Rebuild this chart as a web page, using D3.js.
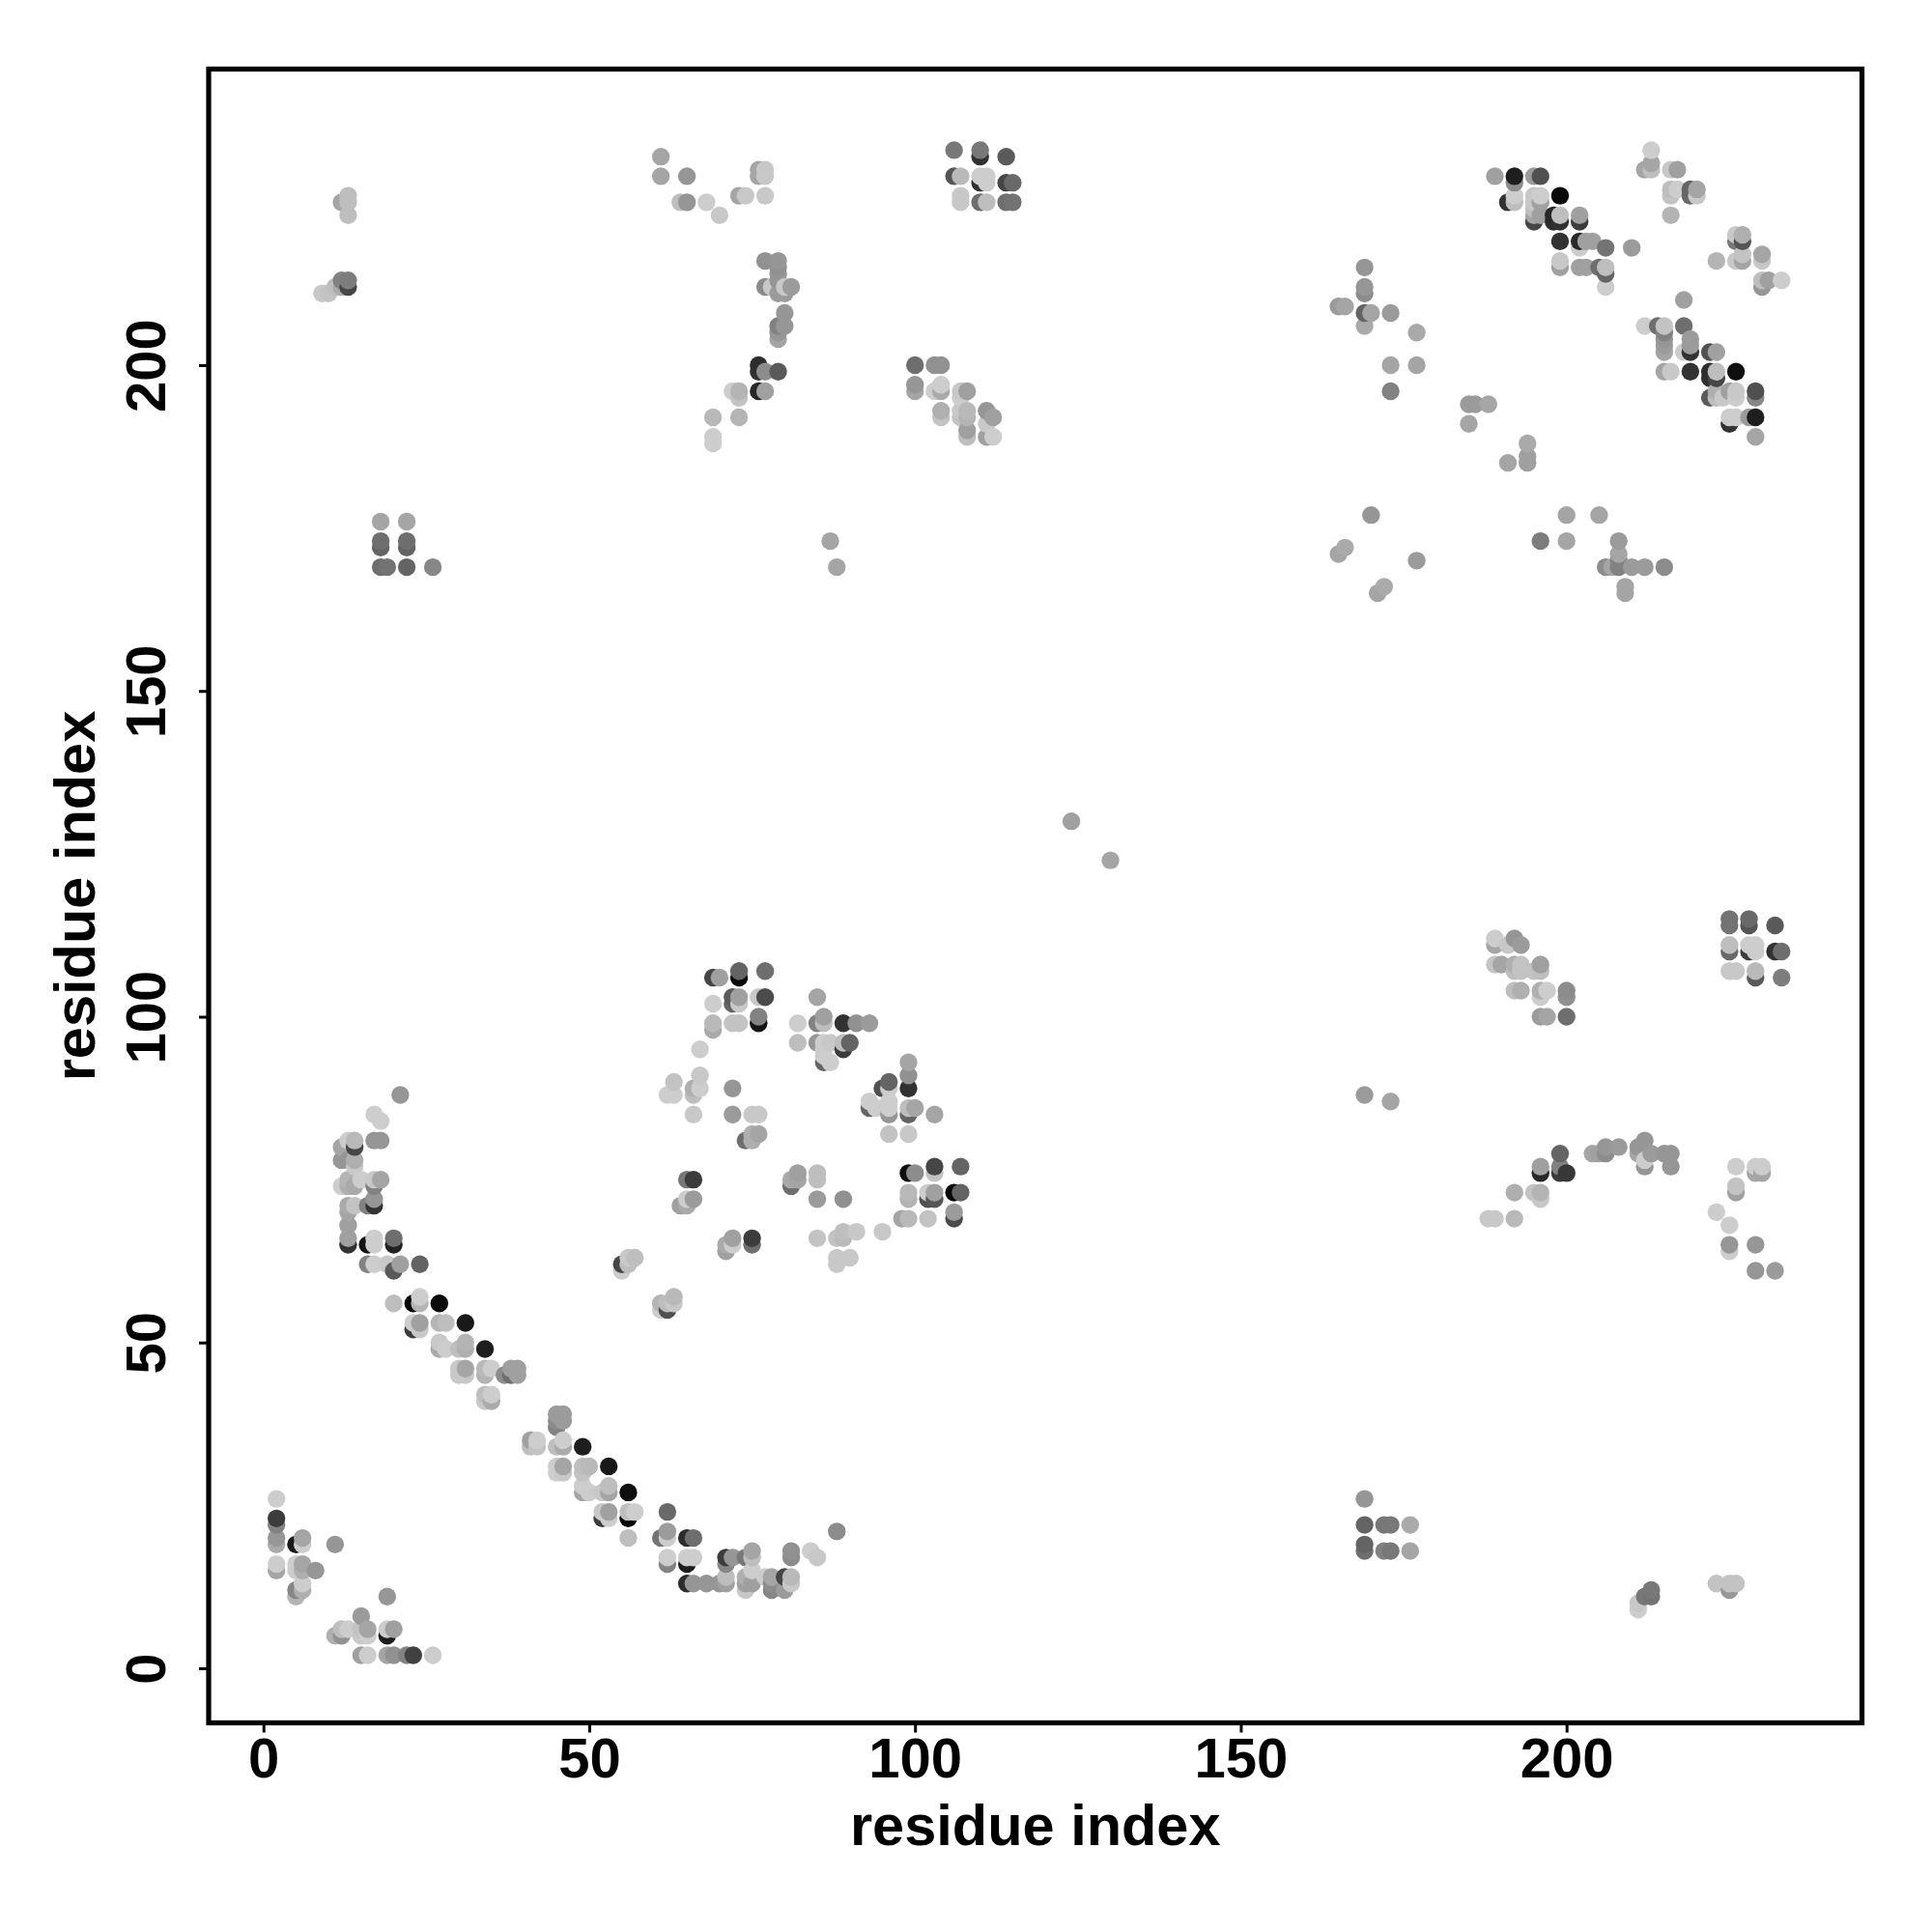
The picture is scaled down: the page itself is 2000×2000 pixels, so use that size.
<!DOCTYPE html>
<html>
<head>
<meta charset="utf-8">
<style>html,body{margin:0;padding:0;background:#fff}svg{display:block}</style>
<script src="https://cdn.jsdelivr.net/npm/d3@7"></script>
</head>
<body>
<div id="chart"></div>
<script>
// Each contact: [residue x, residue y, grey level]
const xTicks = [0, 50, 100, 150, 200];
const yTicks = [0, 50, 100, 150, 200];
const axisTitle = "residue index";

const lowDiagonal = [
[21,88,150],[17,85,205],[18,84,205],[17,81,150],[18,81,150],[14,81,185],[14,80,70],[13,81,205],[12,80,165],[12,78,150],[14,78,175],[13,78,150],[14,77,200],
[12,74,205],[13,75,180],[13,74,175],[14,74,170],[15,75,205],[17,75,200],[18,75,165],[17,74,130],[16,71,130],[17,72,150],[17,71,50],[13,71,170],[14,71,195],[13,70,165],[13,68,160],[13,65,50],[13,66,160],
[16,65,20],[17,66,205],[17,65,205],[20,66,110],[20,65,35],[16,62,130],[17,62,205],[19,62,200],[20,61,90],[21,62,160],[24,62,100],
[20,56,190],[23,56,5],[24,57,205],[24,56,180],[27,56,10],[23,53,205],[23,52,60],[24,52,200],[24,53,160],[27,53,180],[28,53,190],[31,53,25],
[27,49,170],[27,50,200],[28,49,205],[30,49,190],[31,49,175],[31,50,180],[34,49,30],[30,46,200],[31,46,165],[30,45,200],[31,45,200],[34,46,185],[35,46,205],[34,45,180],[37,45,140],[38,45,110],[38,46,160],[39,46,160],[39,45,160],
[34,42,190],[35,42,205],[34,41,200],[35,41,170],
[45,39,155],[46,39,155],[45,38,140],[45,37,130],[46,38,155],[41,35,160],[42,35,205],[41,34,190],[42,34,195],[45,34,190],[46,35,205],[46,34,170],[49,34,30],
[45,31,205],[46,31,165],[45,30,205],[46,30,200],[49,31,190],[50,31,185],[49,30,195],[53,31,25],[49,27,165],[50,27,205],[52,27,200],[53,28,190],[53,27,165],[49,28,205],
[52,24,200],[53,24,160],[52,23,60],[53,23,205],[56,27,15],[56,24,190],[57,24,205],[56,23,5],[56,20,190],[62,24,105],[62,21,155],[61,20,115],[62,20,205],[65,20,45],[66,20,110],
[62,17,205],[62,16,130],[65,17,205],[66,17,205],[65,16,30],[65,13,45],[66,13,150],[68,13,150],[70,13,150],[71,13,160],[71,14,190],[71,17,60],[71,16,135],[72,17,150],[74,17,120],[75,18,165],[75,17,190],
[74,14,175],[74,13,160],[74,12,200],[75,15,205],[75,13,160],[77,14,205],[78,14,165],[78,13,140],[78,12,135],[80,14,70],[80,12,155],[81,14,185],[81,13,200],[81,18,145],[81,17,140],[84,18,205],[85,17,200],[88,21,140]
];

const lowCorner = [
[2,26,205],[2,23,60],[2,22,130],[2,20,150],[2,19,170],[2,16,205],[2,15,165],[5,19,25],[6,20,165],[6,19,205],[11,19,150],[5,16,205],[6,16,165],[5,15,205],[6,15,175],[8,15,150],[5,11,180],[5,12,135],[6,12,175],[6,13,205],
[19,11,150],[15,8,155],[11,5,175],[12,5,145],[12,6,190],[13,6,205],[15,5,200],[16,5,205],[15,6,195],[16,6,165],[19,6,205],[20,6,160],[19,5,30],[15,2,160],[16,2,205],[19,2,165],[20,2,145],[22,2,130],[23,2,65],[26,2,205]
];

const midCluster = [
[69,106,70],[70,106,160],[73,107,100],[73,106,10],[77,107,110],[72,103,90],[73,103,160],[72,102,100],[73,102,200],[69,102,205],[76,103,200],[77,103,75],[69,99,185],[69,98,170],[72,99,195],[73,99,195],[76,100,130],[76,99,20],[67,95,205],
[85,103,165],[82,99,205],[82,96,190],[85,99,130],[86,100,160],[86,99,190],[89,99,50],[91,99,145],[93,99,155],[85,96,150],[86,96,205],[87,96,200],[86,95,205],[86,94,205],[86,93,100],[87,93,205],[89,95,60],[89,96,190],[90,96,100],
[99,93,165],[99,91,145],[99,89,50],[96,90,100],[95,89,80],[96,89,205],[93,87,205],[93,86,100],[94,86,205],[96,87,205],[96,86,205],[96,85,150],[99,86,190],[99,85,100],[100,86,165],[103,85,165],[96,82,195],[99,82,200],
[63,90,195],[67,91,200],[62,88,205],[63,88,205],[66,89,175],[66,88,190],[67,89,205],[72,89,150],[66,85,200],[72,85,155],[75,85,200],[76,85,200],[74,81,110],[75,81,175],[75,82,175],[76,82,165],
[65,75,120],[66,75,60],[64,71,160],[65,71,170],[65,72,205],[66,72,155],[72,66,160],[75,66,60],[75,65,110],[71,65,170],[72,65,205],[71,64,160],
[82,76,160],[81,75,170],[81,74,110],[82,75,165],[85,76,190],[85,75,190],[85,72,155],[89,72,145],[85,66,195],[88,66,195],[89,67,190],[89,66,185],[91,67,200],[95,67,200],[88,63,200],[88,62,200],[90,63,200],
[99,76,15],[100,76,140],[103,77,70],[103,76,195],[107,77,100],[99,73,185],[99,72,180],[102,73,205],[103,73,160],[102,72,80],[103,72,85],[106,73,5],[107,73,100],[98,69,165],[99,69,185],[102,69,195],[106,70,155],[106,69,75],
[55,62,70],[55,61,205],[56,62,190],[56,63,200],[57,63,190],[63,57,185],[63,56,200],[61,56,180],[62,55,80],[61,55,205],[62,56,190]
];

const highRight = [
[189,229,160],[192,229,30],[192,228,140],[195,229,155],[196,229,80],[191,225,50],[192,226,205],[192,225,190],[195,226,200],[196,226,205],[195,225,200],[196,225,160],[195,224,190],[195,223,165],[196,223,160],[195,222,70],[199,226,10],
[198,223,40],[199,223,190],[198,222,45],[199,222,50],[202,223,160],[202,222,60],[199,219,50],[202,219,40],[203,219,160],[204,219,160],[202,218,205],[206,218,115],[210,218,155],[199,216,200],[199,215,160],[202,215,160],[203,215,160],[205,215,110],[206,215,190],[206,214,100],[206,212,205],
[213,233,205],[213,231,165],[212,230,165],[213,230,190],[216,230,200],[217,230,160],[216,227,190],[217,227,205],[216,226,195],[219,227,100],[219,226,105],[220,227,165],[220,226,200],[216,223,180],
[226,220,200],[227,220,175],[226,219,120],[227,219,85],[223,216,180],[226,216,200],[227,217,195],[227,216,165],[230,217,165],[230,216,200],[230,213,190],[231,213,160],[230,212,150],[233,213,205],
[218,210,160],[212,206,205],[214,206,110],[215,206,195],[215,205,130],[215,204,150],[215,203,155],[215,202,165],[218,206,110],[219,204,155],[219,203,155],[218,202,205],[219,202,50],[222,202,80],[223,202,160],
[215,199,165],[216,199,200],[219,199,50],[222,199,45],[223,199,190],[222,198,50],[223,198,70],[226,199,15],[222,195,90],[223,196,175],[223,195,190],[224,195,200],[225,196,160],[226,196,200],[226,195,205],[229,196,80],[229,195,135],
[225,192,205],[226,192,205],[225,191,50],[228,192,155],[229,192,30],[229,189,165],[185,194,155],[186,194,155],[188,194,165],[185,191,165],[194,188,170],[194,186,160],[194,185,160],[191,185,165]
];

const highMiddle = [
[61,232,165],[61,229,165],[65,229,150],[64,225,190],[65,225,150],[68,225,205],[70,223,200],[73,226,165],[74,226,200],[77,226,200],[76,230,165],[76,229,165],[77,230,200],[77,229,200],
[77,216,145],[79,216,150],[79,215,145],[79,214,150],[77,212,140],[78,212,200],[79,213,150],[79,211,155],[80,211,155],[80,212,200],[81,212,155],[80,208,150],[80,206,150],[79,206,130],[79,205,150],[79,204,165],
[76,200,45],[76,199,50],[77,199,140],[79,199,90],[72,196,205],[73,196,180],[73,195,195],[76,196,40],[77,196,160],[69,192,185],[73,192,180],[69,189,205],[69,188,205],
[106,233,120],[110,233,120],[110,232,50],[114,232,90],[106,229,85],[107,229,185],[110,229,205],[111,229,205],[110,228,50],[111,228,205],[114,228,70],[115,228,105],[107,226,200],[107,225,200],[110,225,110],[111,225,190],[114,225,110],[115,225,115],
[100,200,110],[103,200,145],[104,200,145],[100,197,150],[100,196,165],[103,196,205],[104,197,205],[104,196,170],[107,196,200],[108,196,160],[107,195,205],[104,193,175],[104,192,195],[107,193,200],[108,193,185],[107,192,195],[108,192,180],[108,190,160],[108,189,190],[111,193,150],[112,192,160],[111,191,200],[111,189,160],[112,189,205]
];

const highLeft = [
[13,226,190],[12,225,165],[13,225,190],[13,223,190],[9,211,200],[10,211,195],[11,212,190],[12,213,130],[13,213,125],[12,212,170],[13,212,70],
[18,176,165],[22,176,165],[18,173,110],[22,173,110],[18,172,100],[22,172,100],[18,169,110],[19,169,115],[22,169,100],[26,169,135],[87,173,165],[88,169,165]
];

const sparse = [
[124,130,160],[130,124,165],[169,215,150],[169,212,150],[169,211,140],[165,209,155],[166,209,165],[169,208,100],[170,208,165],[173,208,155],[169,206,170],[177,205,170],[173,200,165],[177,200,165],[173,196,130],[169,88,155],[173,87,165],
[170,177,150],[165,171,165],[166,172,170],[177,170,155],[171,165,165],[172,166,170],[196,173,125],[200,177,165],[200,173,165],[205,177,165],[206,169,140],[208,173,155],[208,171,165],[208,170,130],[207,169,165],[208,169,130],[209,166,165],[209,165,165],[210,169,155],[212,169,155],[215,169,140]
];

const rightLow = [
[189,112,205],[189,111,165],[192,112,150],[193,111,155],[191,111,200],[189,108,195],[190,108,165],[192,108,175],[193,108,195],[192,107,190],[193,107,195],[195,107,195],[196,108,160],[196,107,190],[192,104,190],[193,104,175],[196,104,175],[197,104,205],[196,103,205],[200,104,140],[200,103,145],[196,100,155],[197,100,165],[200,100,110],
[225,115,115],[225,114,115],[228,115,105],[228,114,85],[232,114,90],[225,111,190],[225,110,105],[228,111,205],[229,111,205],[228,110,60],[229,110,205],[232,110,50],[233,110,110],[225,107,200],[226,107,200],[229,107,185],[229,106,90],[233,106,125],
[199,79,100],[196,77,160],[196,76,40],[199,77,130],[199,76,60],[200,76,55],[192,73,175],[195,73,195],[196,73,180],[196,72,200],[188,69,200],[189,69,200],[192,69,185],
[204,79,165],[205,79,160],[206,80,150],[206,79,140],[208,80,155],[211,80,150],[211,79,165],[212,81,150],[212,77,150],[212,78,205],[213,79,155],[215,79,150],[216,79,150],[216,77,150],
[226,77,205],[229,77,205],[230,77,205],[229,76,165],[230,76,165],[226,74,195],[226,73,160],[223,70,205],[225,68,205],[225,65,150],[225,64,205],[229,65,150],[229,61,150],[232,61,155],
[169,26,150],[169,22,100],[172,22,120],[173,22,120],[176,22,170],[169,19,100],[169,18,110],[172,18,130],[173,18,120],[176,18,165],
[211,10,200],[211,9,205],[212,11,120],[213,12,120],[213,11,115],[223,13,195],[225,12,150],[225,13,195],[226,13,195]
];

const contacts = d3.sort(
  [...lowDiagonal, ...lowCorner, ...midCluster, ...highRight, ...highMiddle, ...highLeft, ...sparse, ...rightLow],
  (a, b) => a[0] - b[0] || a[1] - b[1]
);

const width = 2000, height = 2000;
const box = {left: 216, right: 1927.5, top: 71.5, bottom: 1783.5};

const x = d3.scaleLinear().domain([0, 200]).range([272.7, 1621.7]);
const y = d3.scaleLinear().domain([0, 200]).range([1727, 378]);
const grey = d3.scaleLinear().domain([0, 255]).range(["#000000", "#ffffff"]);

const svg = d3.select("#chart").append("svg")
  .attr("width", width).attr("height", height)
  .style("font-family", "'Liberation Sans', Arial, sans-serif")
  .style("font-weight", "bold");

svg.append("g").selectAll("circle").data(contacts).join("circle")
  .attr("cx", d => x(d[0]))
  .attr("cy", d => y(d[1]))
  .attr("r", 9.2)
  .attr("fill", d => grey(d[2]));

svg.append("rect")
  .attr("x", box.left).attr("y", box.top)
  .attr("width", box.right - box.left).attr("height", box.bottom - box.top)
  .attr("fill", "none").attr("stroke", "#000").attr("stroke-width", 5.2);

const xAxis = svg.append("g").attr("transform", `translate(0,${box.bottom})`)
  .call(d3.axisBottom(x).tickValues(xTicks).tickSize(10).tickFormat(d3.format("d")));
xAxis.select(".domain").remove();
xAxis.selectAll("line").attr("stroke-width", 3).attr("stroke", "#000");
xAxis.selectAll("text").attr("y", 0).attr("dy", 0)
  .attr("transform", "translate(0,56.5)")
  .style("font-size", "58px").attr("fill", "#000");

const yAxis = svg.append("g").attr("transform", `translate(${box.left},0)`)
  .call(d3.axisLeft(y).tickValues(yTicks).tickSize(10).tickFormat(d3.format("d")));
yAxis.select(".domain").remove();
yAxis.selectAll("line").attr("stroke-width", 3).attr("stroke", "#000");
yAxis.selectAll("text")
  .attr("x", 0).attr("y", 0).attr("dy", 0)
  .attr("transform", "translate(-45,0) rotate(-90)")
  .attr("text-anchor", "middle")
  .style("font-size", "58px").attr("fill", "#000");

svg.append("text")
  .attr("x", (box.left + box.right) / 2).attr("y", 1910)
  .attr("text-anchor", "middle").style("font-size", "59.5px").text(axisTitle);

svg.append("text")
  .attr("transform", `translate(98,${(box.top + box.bottom) / 2}) rotate(-90)`)
  .attr("text-anchor", "middle").style("font-size", "59.5px").text(axisTitle);
</script>
</body>
</html>
